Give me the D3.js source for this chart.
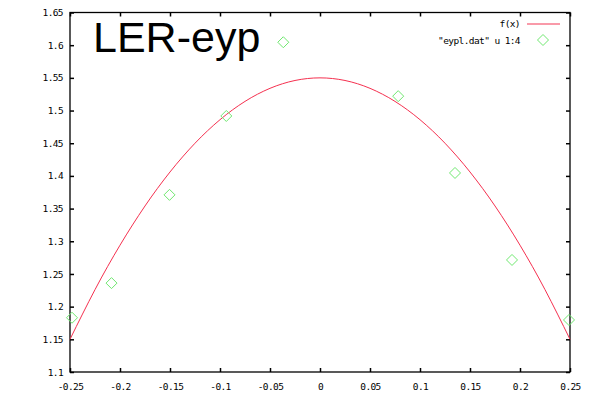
<!DOCTYPE html>
<html>
<head>
<meta charset="utf-8">
<script src="https://d3js.org/d3.v7.min.js"></script>
<style>
  body { margin: 0; background: #fff; }
</style>
</head>
<body>
<div id="chart"></div>
<script>
// fitted curve f(x)
const fitX = [-0.25, -0.225, -0.2, -0.175, -0.15, -0.125, -0.1, -0.075, -0.05, -0.025, 0,
              0.025, 0.05, 0.075, 0.1, 0.125, 0.15, 0.175, 0.2, 0.225, 0.25];
const fitY = [1.15, 1.226, 1.294, 1.354, 1.406, 1.45, 1.486, 1.514, 1.534, 1.546, 1.55,
              1.546, 1.534, 1.514, 1.486, 1.45, 1.406, 1.354, 1.294, 1.226, 1.15];

// "eypl.dat" u 1:4
const datX = [-0.248, -0.2085, -0.1505, -0.0937, -0.0367, 0.0782, 0.135, 0.192, 0.249];
const datY = [1.183, 1.236, 1.371, 1.4917, 1.6045, 1.522, 1.4045, 1.2714, 1.1796];

const xTicks = [-0.25, -0.2, -0.15, -0.1, -0.05, 0, 0.05, 0.1, 0.15, 0.2, 0.25];
const yTicks = [1.1, 1.15, 1.2, 1.25, 1.3, 1.35, 1.4, 1.45, 1.5, 1.55, 1.6, 1.65];

const W = 589, H = 396;
const m = {l: 70, r: 19, t: 12.5, b: 24};
const mono = "'DejaVu Sans Mono', monospace";

const svg = d3.select("#chart").append("svg")
    .attr("width", W).attr("height", H);

const x = d3.scaleLinear().domain([-0.25, 0.25]).range([m.l, W - m.r]);
const y = d3.scaleLinear().domain([1.1, 1.65]).range([H - m.b, m.t]);

const fmt = d => d === 0 ? "0" : String(+d.toFixed(2));
const tl = 4;

// axes (ticks pointing inward, mirrored)
const axBottom = svg.append("g").attr("transform", `translate(0,${H - m.b})`)
    .call(d3.axisBottom(x).tickValues(xTicks).tickFormat(fmt).tickSizeInner(-tl).tickSizeOuter(0).tickPadding(11));
const axTop = svg.append("g").attr("transform", `translate(0,${m.t})`)
    .call(d3.axisTop(x).tickValues(xTicks).tickFormat("").tickSizeInner(-tl).tickSizeOuter(0));
const axLeft = svg.append("g").attr("transform", `translate(${m.l},0)`)
    .call(d3.axisLeft(y).tickValues(yTicks).tickFormat(fmt).tickSizeInner(-tl).tickSizeOuter(0).tickPadding(7));
const axRight = svg.append("g").attr("transform", `translate(${W - m.r},0)`)
    .call(d3.axisRight(y).tickValues(yTicks).tickFormat("").tickSizeInner(-tl).tickSizeOuter(0));

[axBottom, axTop, axLeft, axRight].forEach(g => {
  g.select(".domain").remove();
  g.selectAll(".tick line").style("stroke", "#000").style("stroke-width", 1.5);
  g.selectAll("text")
    .style("font-size", "9.5px").style("fill", "#000")
    .style("font-family", mono).style("letter-spacing", "-0.6px");
});

// frame
svg.append("rect")
    .attr("x", m.l).attr("y", m.t)
    .attr("width", W - m.r - m.l).attr("height", H - m.b - m.t)
    .style("fill", "none").style("stroke", "#000").style("stroke-width", 1.3);

// curve
const fit = fitX.map((v, i) => [v, fitY[i]]);
svg.append("path")
    .datum(fit)
    .style("fill", "none")
    .style("stroke", "#f5304f")
    .style("stroke-width", 1)
    .attr("d", d3.line().x(d => x(d[0])).y(d => y(d[1])).curve(d3.curveNatural));

// data points
const pts = datX.map((v, i) => [v, datY[i]]);
const diamond = (cx, cy, r) => `M${cx},${cy - r}L${cx + r},${cy}L${cx},${cy + r}L${cx - r},${cy}Z`;
svg.append("g").selectAll("path")
    .data(pts).join("path")
    .attr("d", d => diamond(x(d[0]), y(d[1]), 5.5))
    .style("fill", "none")
    .style("stroke", "#6fe86f")
    .style("stroke-width", 1);

// title
svg.append("text")
    .attr("x", 93).attr("y", 52)
    .style("font-family", "'Liberation Sans', Arial, sans-serif")
    .style("font-size", "43px")
    .text("LER-eyp");

// legend
const lg = svg.append("g")
    .style("font-family", mono)
    .style("font-size", "9.5px")
    .style("letter-spacing", "-0.6px");
lg.append("text").attr("x", 520).attr("y", 27).attr("text-anchor", "end").text("f(x)");
lg.append("line").attr("x1", 527).attr("x2", 560).attr("y1", 24).attr("y2", 24)
    .style("stroke", "#f7798c").style("stroke-width", 1.6);
lg.append("text").attr("x", 520).attr("y", 44).attr("text-anchor", "end").text('"eypl.dat" u 1:4');
lg.append("path").attr("d", diamond(543, 40, 5.5))
    .style("fill", "none").style("stroke", "#6fe86f").style("stroke-width", 1);
</script>
</body>
</html>
